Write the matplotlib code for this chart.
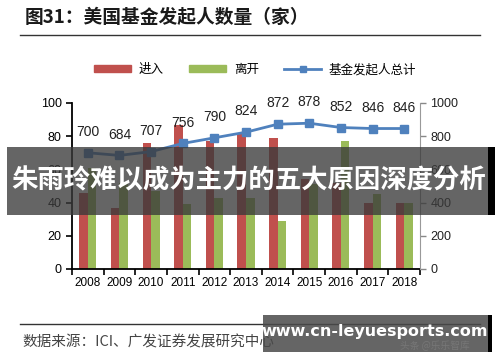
#!/usr/bin/env python3
"""US fund sponsors: entries, exits and total count"""

import numpy as np
import matplotlib.pyplot as plt
from matplotlib.patches import Rectangle
from matplotlib.lines import Line2D

plt.rcParams['font.family'] = ['Liberation Sans', 'Noto Sans CJK SC', 'DejaVu Sans']

years = ['2008', '2009', '2010', '2011', '2012', '2013',
         '2014', '2015', '2016', '2017', '2018']
entered = [46, 37, 76, 87, 77, 81, 79, 54, 52, 40, 40]
left = [61, 52, 47, 39, 43, 43, 29, 51, 77, 45, 40]
total = [700, 684, 707, 756, 790, 824, 872, 878, 852, 846, 846]

red = '#C0504D'
green = '#9BBB59'
blue = '#4F81BD'

fig = plt.figure(figsize=(5, 3.62), dpi=100)
ax = fig.add_axes([0.144, 0.257, 0.696, 0.4586])
ax2 = ax.twinx()

x = np.arange(len(years))
w = 0.27
ax.bar(x - w / 2, entered, width=w, color=red, label='进入')
ax.bar(x + w / 2, left, width=w, color=green, label='离开')
ax2.plot(x, total, color=blue, lw=2, marker='s', ms=6, label='基金发起人总计')
for xi, v in zip(x, total):
    ax2.annotate(str(v), (xi, v), xytext=(0, 10), textcoords='offset points',
                 ha='center', va='bottom', fontsize=10, color='#222222')

ax.set_xlim(-0.5, len(years) - 0.5)
ax.set_ylim(0, 100)
ax2.set_ylim(0, 1000)
ax.set_yticks(range(0, 101, 20))
ax2.set_yticks(range(0, 1001, 200))
ax.set_xticks(x)
ax.set_xticklabels(years)
ax.set_xticks(np.arange(-0.5, len(years)), minor=True)
ax.tick_params(axis='x', which='major', length=0, labelsize=8.5, pad=6)
ax.tick_params(axis='x', which='minor', length=4, width=1.2)
ax.tick_params(axis='y', length=4, width=1.2, labelsize=9)
ax2.tick_params(axis='y', length=4, width=1, colors='#888888', labelsize=9,
                labelcolor='#222222')

for a in (ax, ax2):
    a.spines['top'].set_visible(False)
ax.spines['right'].set_visible(False)
ax.spines['left'].set_linewidth(1.3)
ax.spines['bottom'].set_linewidth(1.3)
ax2.spines['left'].set_visible(False)
ax2.spines['bottom'].set_visible(False)
ax2.spines['right'].set_color('#999999')

# legend
handles = [
    Rectangle((0, 0), 1, 1, color=red),
    Rectangle((0, 0), 1, 1, color=green),
    Line2D([], [], color=blue, lw=2, marker='s', ms=4),
]
fig.legend(handles, ['进入', '离开', '基金发起人总计'], loc='center',
           bbox_to_anchor=(0.51, 0.807), ncol=3, frameon=False,
           handlelength=3.0, handleheight=0.5, columnspacing=2.0,
           handletextpad=0.6,
           prop={'family': ['Noto Sans CJK SC'], 'size': 9})

# title, rules, source
fig.text(0.05, 0.952, '图31：美国基金发起人数量（家）', fontsize=13.5,
         fontweight='bold', va='center', color='#1a1a1a',
         family=['Noto Sans CJK SC'])
fig.add_artist(Line2D([0.04, 0.96], [0.903, 0.903], color='#333333', lw=1))
fig.add_artist(Line2D([0.04, 0.96], [0.105, 0.105], color='#333333', lw=1))
fig.text(0.044, 0.055, '数据来源：ICI、广发证券发展研究中心', fontsize=10.5,
         va='center', color='#444444', family=['Noto Sans CJK SC'])

# overlay banner
fig.add_artist(Rectangle((0.014, 0.406), 0.966, 0.188, transform=fig.transFigure,
                         color='#3a3a3a', alpha=0.78, zorder=10, lw=0))
fig.add_artist(Rectangle((0.976, 0.406), 0.014, 0.188, transform=fig.transFigure,
                         color='black', zorder=10, lw=0))
fig.text(0.497, 0.5, '朱雨玲难以成为主力的五大原因深度分析', fontsize=19,
         fontweight='bold', color='white', ha='center', va='center',
         zorder=11, family=['Noto Sans CJK SC'])

# watermark
fig.add_artist(Rectangle((0.526, 0.028), 0.452, 0.102, transform=fig.transFigure,
                         color='#4a4a4a', alpha=0.85, zorder=10, lw=0))
fig.add_artist(Rectangle((0.976, 0.028), 0.008, 0.102, transform=fig.transFigure,
                         color='black', zorder=10, lw=0))
fig.text(0.75, 0.085, 'www.cn-leyuesports.com', fontsize=11.5, fontweight='bold',
         color='white', ha='center', va='center', zorder=11,
         family=['DejaVu Sans'])
fig.text(0.87, 0.045, '头条 @乐乐智库', fontsize=7, color='#777777',
         ha='center', va='center', zorder=11, family=['Noto Sans CJK SC'])

fig.savefig('out.png', dpi=100)
